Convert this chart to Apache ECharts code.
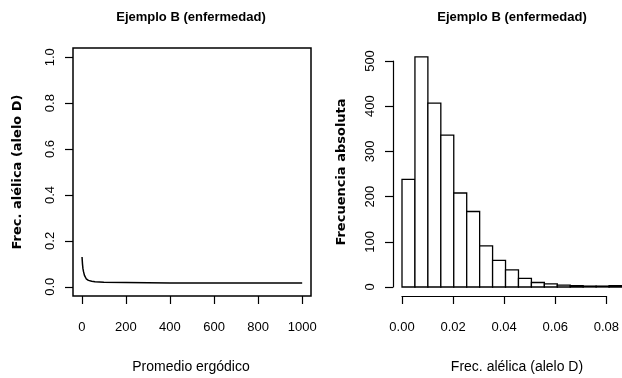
<!DOCTYPE html>
<html><head><meta charset="utf-8">
<script src="https://cdn.jsdelivr.net/npm/echarts@6/dist/echarts.min.js"></script>
<style>html,body{margin:0;padding:0;background:#fff}#c{width:622px;height:378px}</style>
</head><body><div id="c"></div>
<script>
// Left panel: ergodic (running) mean of allele frequency
const iterations = [1, 3, 5, 8, 12, 15, 20, 30, 45, 60, 80, 100, 200, 300, 400, 600, 800, 1000];
const ergodicMean = [0.13, 0.10, 0.08, 0.065, 0.05, 0.042, 0.035, 0.028, 0.024, 0.022, 0.021, 0.020, 0.019, 0.018, 0.017, 0.017, 0.017, 0.017];
const leftXTicks = [0, 200, 400, 600, 800, 1000];
const leftYTicks = [0, 0.2, 0.4, 0.6, 0.8, 1.0];

// Right panel: histogram of allele frequency
const binWidth = 0.005;
const binStarts = [0, 0.005, 0.010, 0.015, 0.020, 0.025, 0.030, 0.035, 0.040, 0.045, 0.050, 0.055, 0.060, 0.065, 0.070, 0.075, 0.080];
const counts = [238, 509, 407, 336, 208, 167, 91, 59, 38, 19, 10, 7, 4, 3, 2, 2, 3];
const rightXTicks = [0, 0.02, 0.04, 0.06, 0.08];
const rightYTicks = [0, 100, 200, 300, 400, 500];

const titleText = 'Ejemplo B (enfermedad)';
const FONT = "'Liberation Sans', Arial, sans-serif";
const YFONT = "'DejaVu Sans', sans-serif";

const chart = echarts.init(document.getElementById('c'), null, {renderer: 'canvas'});
const lab = {color: '#000', fontFamily: FONT, fontSize: 13};
const tick = {show: true, inside: false, length: 8, lineStyle: {color: '#000', width: 1.2}};

chart.setOption({
  animation: false,
  backgroundColor: '#fff',
  grid: [
    {left: 73, top: 48, width: 238, height: 248, show: true, borderColor: '#000', borderWidth: 1.5, backgroundColor: 'transparent'},
    {left: 402, top: 61, right: 0, bottom: 91},
    {left: 402, top: 61, width: 207, bottom: 91}
  ],
  xAxis: [
    {gridIndex: 0, type: 'value', min: -40, max: 1040,
      axisLine: {show: false, onZero: false}, splitLine: {show: false},
      axisTick: Object.assign({customValues: leftXTicks}, tick),
      axisLabel: Object.assign({customValues: leftXTicks, margin: 25, formatter: v => String(v)}, lab)},
    {gridIndex: 1, type: 'value', min: 0, max: 0.085, show: false},
    {gridIndex: 2, type: 'value', min: 0, max: 0.08, offset: 9,
      axisLine: {show: true, onZero: false, lineStyle: {color: '#000', width: 1.2}}, splitLine: {show: false},
      axisTick: Object.assign({customValues: rightXTicks}, tick),
      axisLabel: Object.assign({customValues: rightXTicks, margin: 25, formatter: v => v.toFixed(2)}, lab)}
  ],
  yAxis: [
    {gridIndex: 0, type: 'value', min: -0.04, max: 1.04,
      axisLine: {show: false, onZero: false}, splitLine: {show: false},
      axisTick: Object.assign({customValues: leftYTicks}, tick),
      axisLabel: Object.assign({customValues: leftYTicks, rotate: 90, margin: 16, formatter: v => v.toFixed(1)}, lab)},
    {gridIndex: 1, type: 'value', min: 0, max: 500, show: false},
    {gridIndex: 2, type: 'value', min: 0, max: 500, offset: 9,
      axisLine: {show: true, onZero: false, lineStyle: {color: '#000', width: 1.2}}, splitLine: {show: false},
      axisTick: Object.assign({customValues: rightYTicks}, tick),
      axisLabel: Object.assign({customValues: rightYTicks, rotate: 90, margin: 16, formatter: v => String(v)}, lab)}
  ],
  series: [
    {type: 'line', xAxisIndex: 0, yAxisIndex: 0, showSymbol: false, smooth: false,
      lineStyle: {color: '#000', width: 1.5},
      data: iterations.map((it, i) => [it, ergodicMean[i]])},
    {type: 'custom', xAxisIndex: 1, yAxisIndex: 1, clip: false,
      data: binStarts.map((s, i) => [s, s + binWidth, counts[i]]),
      encode: {x: [0, 1], y: 2},
      renderItem: function (params, api) {
        const p0 = api.coord([api.value(0), api.value(2)]);
        const p1 = api.coord([api.value(1), 0]);
        return {type: 'rect', shape: {x: p0[0], y: p0[1], width: p1[0] - p0[0], height: p1[1] - p0[1]},
          style: {fill: '#fff', stroke: '#000', lineWidth: 1.3}};
      }}
  ],
  graphic: [
    {type: 'text', x: 191, y: 17, style: {text: titleText, fill: '#000', font: 'bold 13px ' + FONT, textAlign: 'center', textVerticalAlign: 'middle'}},
    {type: 'text', x: 512, y: 17, style: {text: titleText, fill: '#000', font: 'bold 13px ' + FONT, textAlign: 'center', textVerticalAlign: 'middle'}},
    {type: 'text', x: 191, y: 367, style: {text: 'Promedio ergódico', fill: '#000', font: '14px ' + FONT, textAlign: 'center', textVerticalAlign: 'middle'}},
    {type: 'text', x: 517, y: 367, style: {text: 'Frec. alélica (alelo D)', fill: '#000', font: '14px ' + FONT, textAlign: 'center', textVerticalAlign: 'middle'}},
    {type: 'text', x: 18, y: 172, rotation: Math.PI / 2, style: {text: 'Frec. alélica (alelo D)', fill: '#000', font: 'bold 13px ' + YFONT, textAlign: 'center', textVerticalAlign: 'middle'}},
    {type: 'text', x: 342, y: 172, rotation: Math.PI / 2, style: {text: 'Frecuencia absoluta', fill: '#000', font: 'bold 13px ' + YFONT, textAlign: 'center', textVerticalAlign: 'middle'}}
  ]
});
</script></body></html>
